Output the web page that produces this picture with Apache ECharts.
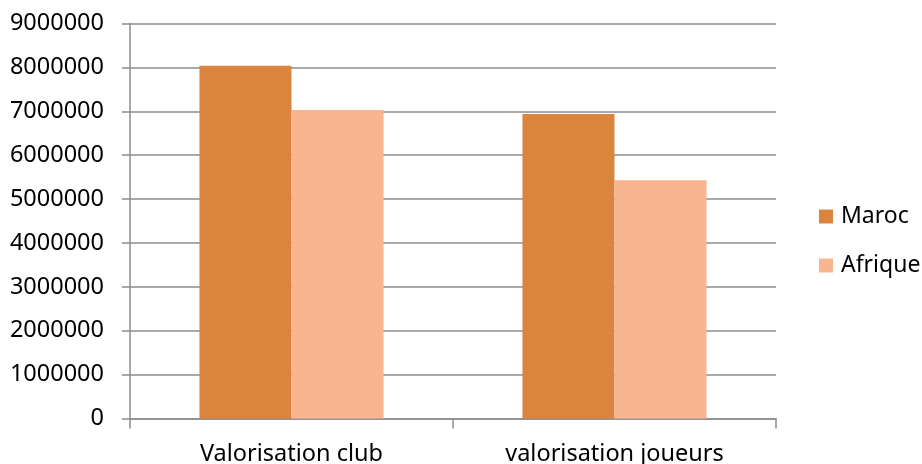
<!DOCTYPE html>
<html><head><meta charset="utf-8">
<script src="https://cdn.jsdelivr.net/npm/echarts@6/dist/echarts.min.js"></script>
<style>html,body{margin:0;padding:0;background:#fff}#c{width:922px;height:464px}</style>
</head><body><div id="c"></div>
<script>
const categories = ['Valorisation club', 'valorisation joueurs'];
const maroc = [8040000, 6940000];
const afrique = [7030000, 5430000];
const seriesNames = ['Maroc', 'Afrique'];

const chart = echarts.init(document.getElementById('c'), null, {renderer: 'canvas'});
const font = 'Noto Sans';
chart.setOption({
  animation: false,
  backgroundColor: '#fff',
  grid: {left: 130, right: 146, top: 23.5, bottom: 45.5, containLabel: false, outerBoundsMode: 'none'},
  legend: {
    orient: 'vertical', left: 814, top: 200,
    itemWidth: 14, itemHeight: 14, itemGap: 26,
    icon: 'rect',
    textStyle: {fontFamily: font, fontSize: 23, color: '#000', padding: [0, 0, 0, 3]},
    data: seriesNames
  },
  xAxis: {
    type: 'category', data: categories,
    axisLine: {lineStyle: {color: '#8c8c8c', width: 1.5}},
    axisTick: {show: true, length: 10, lineStyle: {color: '#8c8c8c', width: 1.5}},
    axisLabel: {fontFamily: font, fontSize: 23.5, color: '#000', margin: 24}
  },
  yAxis: {
    type: 'value', min: 0, max: 9000000, interval: 1000000,
    axisLine: {show: true, lineStyle: {color: '#8c8c8c', width: 1.5}},
    axisTick: {show: true, length: 8, lineStyle: {color: '#8c8c8c', width: 1.5}},
    splitLine: {show: true, lineStyle: {color: '#8c8c8c', width: 1.5}},
    axisLabel: {fontFamily: font, fontSize: 23.5, color: '#000', margin: 26,
      formatter: v => String(v)}
  },
  series: [
    {name: seriesNames[0], type: 'bar', data: maroc, barGap: '0%', barCategoryGap: '43%',
     itemStyle: {color: '#DB843D'}},
    {name: seriesNames[1], type: 'bar', data: afrique, barGap: '0%', barCategoryGap: '43%',
     itemStyle: {color: '#F9B590'}}
  ]
});
</script></body></html>
